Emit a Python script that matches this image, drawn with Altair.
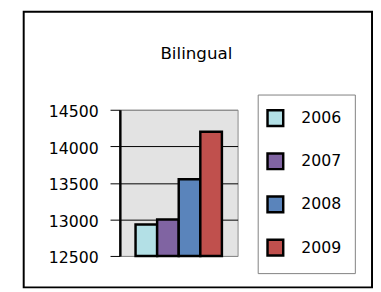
import altair as alt
import pandas as pd

years = ["2006", "2007", "2008", "2009"]
values = [12930, 13000, 13550, 14200]
colors = ["#b3e0e6", "#8064a2", "#5a84bb", "#c0504d"]
y_ticks = [12500, 13000, 13500, 14000, 14500]
title_text = "Bilingual"
base_value = 12500

FONT = "DejaVu Sans"
W, H = 120, 149

df = pd.DataFrame({"year": years, "value": values, "base": [base_value] * len(years)})

bars = alt.Chart(df).mark_bar(stroke="black", strokeWidth=2.5).encode(
    x=alt.X("year:N", sort=years,
            scale=alt.Scale(paddingInner=0, paddingOuter=0.727),
            axis=alt.Axis(title=None, labels=False, ticks=False, domain=False, grid=False)),
    y=alt.Y("value:Q",
            scale=alt.Scale(domain=[y_ticks[0], y_ticks[-1]], zero=False, nice=False),
            axis=alt.Axis(title=None, values=y_ticks, format="d", tickSize=10, tickColor="black",
                          tickWidth=1, labelPadding=12, labelFontSize=16, labelFont=FONT,
                          labelColor="black", labelOffset=2,
                          domainColor="black", domainWidth=2.5,
                          grid=True,
                          gridColor={"condition": {"test": "datum.value == 12500 || datum.value == 14500",
                                                   "value": "#8a8a8a"}, "value": "black"},
                          gridWidth=1)),
    y2="base:Q",
    color=alt.Color("year:N", sort=years,
                    scale=alt.Scale(domain=years, range=colors),
                    legend=alt.Legend(title=None, orient="none", legendX=149, legendY=-1,
                                      symbolType="square", symbolSize=256,
                                      symbolStrokeColor="black", symbolStrokeWidth=2.5,
                                      labelFont=FONT, labelFontSize=16, labelColor="black",
                                      labelOffset=17, rowPadding=17, padding=0)),
)

# decorative boxes and title
frame = alt.Chart(pd.DataFrame({"a": [0]})).mark_rect(
    fill=None, stroke="black", strokeWidth=2
).encode(x=alt.value(-98), x2=alt.value(257), y=alt.value(-100), y2=alt.value(181))

legend_box = alt.Chart(pd.DataFrame({"a": [0]})).mark_rect(
    fill=None, stroke="#7f7f7f", strokeWidth=1
).encode(x=alt.value(141), x2=alt.value(240), y=alt.value(-15), y2=alt.value(167))

title = alt.Chart(pd.DataFrame({"t": [title_text]})).mark_text(
    font=FONT, fontSize=17, color="black", align="center", baseline="alphabetic"
).encode(text="t:N", x=alt.value(78), y=alt.value(-52))

chart = alt.layer(frame, legend_box, title, bars).properties(
    width=W, height=H,
    padding={"left": 15, "top": 0, "right": 0, "bottom": 0},
).configure_view(
    fill="#e3e3e3", stroke="#8a8a8a", strokeWidth=1
)

chart.save("out.html", embed_options={"renderer": "svg", "actions": False})
